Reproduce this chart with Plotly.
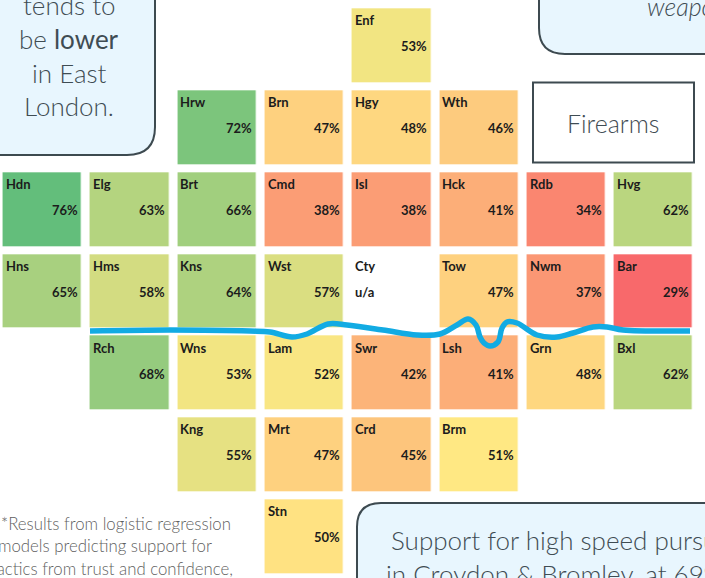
import plotly.graph_objects as go

names_grid = [
    [None, None, None, None, "Enf", None, None, None],
    [None, None, "Hrw", "Brn", "Hgy", "Wth", None, None],
    ["Hdn", "Elg", "Brt", "Cmd", "Isl", "Hck", "Rdb", "Hvg"],
    ["Hns", "Hms", "Kns", "Wst", "Cty", "Tow", "Nwm", "Bar"],
    [None, "Rch", "Wns", "Lam", "Swr", "Lsh", "Grn", "Bxl"],
    [None, None, "Kng", "Mrt", "Crd", "Brm", None, None],
    [None, None, None, "Stn", None, None, None, None],
]
pct_grid = [
    [None, None, None, None, 53, None, None, None],
    [None, None, 72, 47, 48, 46, None, None],
    [76, 63, 66, 38, 38, 41, 34, 62],
    [65, 58, 64, 57, None, 47, 37, 29],
    [None, 68, 53, 52, 42, 41, 48, 62],
    [None, None, 55, 47, 45, 51, None, None],
    [None, None, None, 50, None, None, None, None],
]
river_x = [90, 170, 250, 270, 292, 307, 328, 347, 383, 417, 440, 457, 468, 476, 480, 484, 490, 498, 502, 507, 517, 537, 557, 573, 593, 607, 623, 690]
river_y = [331, 330, 331, 332, 337, 334, 324, 325, 330, 335, 334, 325, 319, 325, 337, 343, 346, 342, 328, 322, 323, 335, 337, 333, 327, 327, 330, 331]
colorscale = [[0, "#F8696B"], [0.468, "#FFE883"], [1, "#63BE7B"]]

W, H = 705, 578
CX0, CXS, CY0, CYS = 42.2, 87.3, 45.2, 81.85
fig = go.Figure()
fig.add_trace(go.Heatmap(z=pct_grid, colorscale=colorscale, zmin=29, zmax=76, showscale=False,
                         xgap=8.8, ygap=8, hoverongaps=False, hoverinfo="skip"))
fig.add_trace(go.Scatter(x=river_x, y=river_y, xaxis="x2", yaxis="y2", mode="lines",
                         line=dict(color="#12ABE3", width=5.5, shape="spline", smoothing=1),
                         hoverinfo="skip", showlegend=False))

ann = []
for r, row in enumerate(names_grid):
    for c, name in enumerate(row):
        if name is None:
            continue
        f = dict(family="Lato", size=13, color="#1c1c1c", weight="bold")
        ann.append(dict(x=c, y=r, text=f"<b>{name}</b>", showarrow=False, xanchor="left", xshift=-38.5, yshift=25, font=f))
        p = pct_grid[r][c]
        if p is None:
            ann.append(dict(x=c, y=r, text="<b>u/a</b>", showarrow=False, xanchor="left", xshift=-38.5, yshift=-1, font=f))
        else:
            ann.append(dict(x=c, y=r, text=f"<b>{p}%</b>", showarrow=False, xanchor="right", xshift=37.5, yshift=-1, font=f))

def txt(x, y, s, size, anchor="center", color="#3f4c53", family="Lato", weight=300):
    ann.append(dict(xref="paper", yref="paper", x=x / W, y=1 - y / H, text=s, showarrow=False,
                    xanchor=anchor, yanchor="middle", font=dict(family=family, size=size, color=color, weight=weight)))

for y, s in [(5, "tends to"), (39, "be <span style=\"font-weight:400\">lower</span>"), (73, "in East"), (106, "London.")]:
    txt(69, y, s, 26)
txt(645, 6, "<i>weapons</i>", 25, "left")
txt(613, 123, "Firearms", 25)
txt(389, 540, "Support for high speed pursuits", 26, "left")
txt(384, 574, "in Croydon &amp; Bromley, at 69%", 26, "left")
txt(-1, 523, "*Results from logistic regression", 16.8, "left", "#5f5f5f")
txt(-4, 545, "models predicting support for", 16.8, "left", "#5f5f5f")
txt(-11, 568, "tactics from trust and confidence,", 16.8, "left", "#5f5f5f")

def box(d):
    return dict(type="path", xref="paper", yref="paper", path=d, fillcolor="#E8F6FE",
                line=dict(color="#3D4A50", width=2), layer="below")

def p(x, y):
    return f"{x / W:.5f},{1 - y / H:.5f}"

shapes = [
    box(f"M{p(-10,-10)} L{p(155,-10)} L{p(155,127)} Q{p(155,155)} {p(127,155)} L{p(-10,155)} Z"),
    box(f"M{p(539,-10)} L{p(539,28)} Q{p(539,54)} {p(565,54)} L{p(715,54)} L{p(715,-10)} Z"),
    box(f"M{p(715,503)} L{p(381,503)} Q{p(357,503)} {p(357,527)} L{p(357,590)} L{p(715,590)} Z"),
    dict(type="rect", xref="paper", yref="paper", x0=533 / W, x1=694 / W, y0=1 - 82.5 / H, y1=1 - 162.5 / H,
         line=dict(color="#3D4A50", width=2), fillcolor="white", layer="below"),
]

hide = dict(visible=False, showgrid=False, zeroline=False, fixedrange=True)
fig.update_layout(
    width=W, height=H, margin=dict(l=0, r=0, t=0, b=0), paper_bgcolor="white", plot_bgcolor="rgba(0,0,0,0)",
    xaxis=dict(range=[(0 - CX0) / CXS, (W - CX0) / CXS], **hide),
    yaxis=dict(range=[(H - CY0) / CYS, (0 - CY0) / CYS], **hide),
    xaxis2=dict(range=[0, W], overlaying="x", **hide),
    yaxis2=dict(range=[H, 0], overlaying="y", **hide),
    annotations=ann, shapes=shapes, showlegend=False,
)
fig.write_html("out.html", config={"displayModeBar": False},
               post_script="document.body.style.margin='0';document.body.style.overflow='hidden';")
